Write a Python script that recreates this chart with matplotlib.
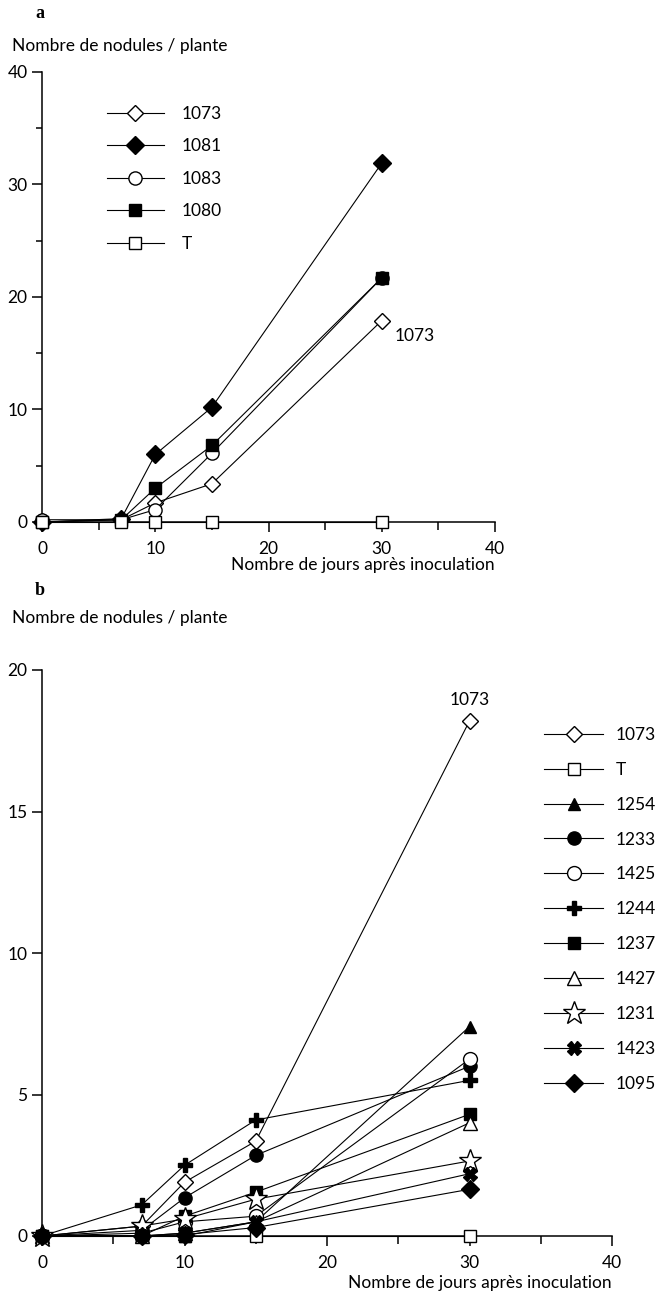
import matplotlib
matplotlib.use("Agg")
import matplotlib.pyplot as plt
from matplotlib.ticker import MultipleLocator

plt.rcParams['font.family'] = ['Lato', 'DejaVu Sans']

# jours apres inoculation
days = [0, 7, 10, 15, 30]

# panel a
labels_a = ["1073", "1081", "1083", "1080", "T"]
a_1073 = [0, 0.2, 1.7, 3.4, 17.9]
a_1081 = [0, 0.3, 6.0, 10.2, 31.9]
a_1083 = [0.2, 0.2, 1.1, 6.1, 21.7]
a_1080 = [0, 0.2, 3.0, 6.8, 21.7]
a_T = [0, 0, 0, 0, 0]

# panel b
labels_b = ["1073", "T", "1254", "1233", "1425", "1244", "1237", "1427", "1231", "1423", "1095"]
b_1073 = [0, 0.35, 1.9, 3.35, 18.2]
b_T = [0, 0, 0, 0, 0]
b_1254 = [0, 0, 0, 0.5, 7.4]
b_1233 = [0, 0.2, 1.35, 2.85, 6.0]
b_1425 = [0, 0.1, 0.5, 0.7, 6.25]
b_1244 = [0, 1.1, 2.5, 4.1, 5.5]
b_1237 = [0, 0, 0.7, 1.55, 4.3]
b_1427 = [0, 0, 0.1, 0.5, 4.0]
b_1231 = [0, 0.35, 0.6, 1.3, 2.65]
b_1423 = [0, 0, 0.1, 0.5, 2.2]
b_1095 = [0, 0, 0.05, 0.3, 1.65]

# marker styles (marker, filled, size)
styles = {
    "1073": ("D", False, 8.5),
    "1081": ("D", True, 9),
    "1083": ("o", False, 9.5),
    "1080": ("s", True, 9),
    "T": ("s", False, 9),
    "1254": ("^", True, 9),
    "1233": ("o", True, 9.5),
    "1425": ("o", False, 10),
    "1244": ("P", True, 10.5),
    "1237": ("s", True, 9),
    "1427": ("^", False, 10),
    "1231": ("*", False, 17),
    "1423": ("X", True, 9.5),
    "1095": ("D", True, 9),
}

FS = 12.5


def draw(ax, lab, ys):
    m, filled, ms = styles[lab]
    ax.plot(days, ys, color="black", lw=0.8, marker=m, ms=ms,
            mfc="black" if filled else "white", mec="black", mew=1.0,
            label=lab, clip_on=False, zorder=3)


def style_axes(ax, ymax, ystep):
    for s in ["top", "right"]:
        ax.spines[s].set_visible(False)
    for s in ["left", "bottom"]:
        ax.spines[s].set_linewidth(1.1)
    ax.set_xlim(0, 40)
    ax.set_ylim(0, ymax)
    ax.xaxis.set_major_locator(MultipleLocator(10))
    ax.xaxis.set_minor_locator(MultipleLocator(5))
    ax.yaxis.set_major_locator(MultipleLocator(ystep))
    ax.tick_params(axis="both", which="major", direction="out", length=7, width=1.1, labelsize=FS)
    ax.tick_params(axis="x", which="major", pad=7)
    ax.tick_params(axis="x", which="minor", direction="out", length=6, width=1.1)
    ax.tick_params(axis="y", which="minor", direction="out", length=4, width=1.1)


fig = plt.figure(figsize=(6.55, 13.02), dpi=100)
W, H = 655, 1302

# ---- panel a
ax = fig.add_axes([42 / W, 1 - 522 / H, 453 / W, 450 / H])
for lab, ys in zip(labels_a, [a_1073, a_1081, a_1083, a_1080, a_T]):
    draw(ax, lab, ys)
style_axes(ax, 40, 10)
ax.yaxis.set_minor_locator(MultipleLocator(5))
ax.set_xlabel("Nombre de jours après inoculation", fontsize=FS, loc="right", labelpad=0)
ax.annotate("1073", xy=(30, a_1073[-1]), xytext=(9, -11), textcoords="offset points",
            fontsize=FS, va="center", ha="left")
ax.legend(loc="upper left", bbox_to_anchor=(0.124, 0.944), frameon=False, fontsize=FS,
          handlelength=3.3, handletextpad=1.0, labelspacing=0.95, borderpad=0, numpoints=1)
fig.text(35 / W, 1 - 13 / H, "a", fontsize=13, fontweight="bold", family="Liberation Serif",
         ha="left", va="center")
fig.text(12 / W, 1 - 46 / H, "Nombre de nodules / plante", fontsize=FS, ha="left", va="center")

# ---- panel b
ax = fig.add_axes([42 / W, 1 - 1236 / H, 570 / W, 566 / H])
for lab, ys in zip(labels_b, [b_1073, b_T, b_1254, b_1233, b_1425, b_1244, b_1237,
                              b_1427, b_1231, b_1423, b_1095]):
    draw(ax, lab, ys)
style_axes(ax, 20, 5)
ax.set_xlabel("Nombre de jours après inoculation", fontsize=FS, loc="right", labelpad=2.5)
ax.annotate("1073", xy=(30, b_1073[-1]), xytext=(0, 9), textcoords="offset points",
            fontsize=FS, va="bottom", ha="center")
ax.legend(loc="upper left", bbox_to_anchor=(0.866, 0.915), frameon=False, fontsize=FS,
          handlelength=3.4, handletextpad=0.7, labelspacing=1.09, borderpad=0, numpoints=1)
fig.text(35 / W, 1 - 590 / H, "b", fontsize=13, fontweight="bold", family="Liberation Serif",
         ha="left", va="center")
fig.text(12 / W, 1 - 618 / H, "Nombre de nodules / plante", fontsize=FS, ha="left", va="center")

fig.savefig("out.png", dpi=100)
